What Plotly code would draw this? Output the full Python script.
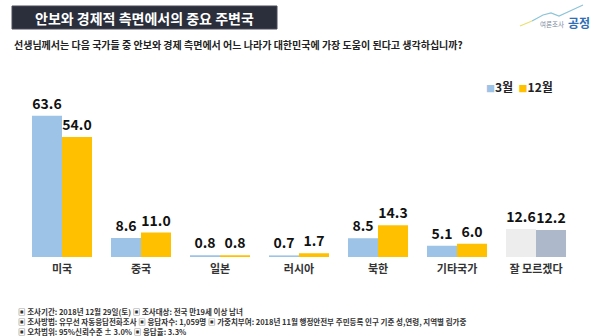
import plotly.graph_objects as go

# Survey results: most helpful neighbouring country (security & economy)
categories = ["미국", "중국", "일본", "러시아", "북한", "기타국가", "잘 모르겠다"]
march = [63.6, 8.6, 0.8, 0.7, 8.5, 5.1, 12.6]
december = [54.0, 11.0, 0.8, 1.7, 14.3, 6.0, 12.2]
series_names = ["3월", "12월"]

BLUE = "#9DC3E6"
YELLOW = "#FFC000"
FONT = "Noto Sans CJK KR"

W, H = 599, 336

def px_x(x):
    return x / W

def px_y(y):
    return 1 - y / H

x_pos = list(range(len(categories)))
march_colors = [BLUE] * (len(categories) - 1) + ["#EDEDED"]
dec_colors = [YELLOW] * (len(categories) - 1) + ["#ADB9CA"]

fig = go.Figure()
for name, vals, cols in [(series_names[0], march, march_colors),
                         (series_names[1], december, dec_colors)]:
    fig.add_trace(go.Bar(
        x=x_pos, y=vals, name=name,
        marker=dict(color=cols, line=dict(width=0)),
        text=[f"<b>{v:.1f}</b>" for v in vals],
        textposition="outside",
        textfont=dict(family=FONT, size=14, color="#111111"),
        cliponaxis=False,
        showlegend=False,
    ))

fig.update_layout(
    width=W, height=H,
    margin=dict(l=0, r=0, t=0, b=0),
    paper_bgcolor="white", plot_bgcolor="white",
    barmode="group", bargap=0.24, bargroupgap=0,
    font=dict(family=FONT),
    xaxis=dict(
        domain=[px_x(22.5), px_x(575.5)],
        range=[-0.5, len(categories) - 0.5],
        tickvals=x_pos,
        ticktext=[f"<b>{c}</b>" for c in categories],
        tickfont=dict(family=FONT, size=11, color="#333333"),
        showline=False, showgrid=False, zeroline=False, ticks="",
        ticklabelstandoff=4,
    ),
    yaxis=dict(
        domain=[px_y(257), px_y(79.4)],
        range=[0, 80],
        visible=False,
    ),
)

# Title banner
fig.add_shape(type="rect", xref="paper", yref="paper",
              x0=px_x(12), x1=px_x(277), y0=px_y(29), y1=px_y(6),
              fillcolor="#2B2E3B", line=dict(color="#4A4D58", width=1))
fig.add_annotation(xref="paper", yref="paper", x=px_x(144), y=px_y(17.5),
                   text="<b>안보와 경제적 측면에서의 중요 주변국</b>",
                   showarrow=False, xanchor="center", yanchor="middle",
                   font=dict(family=FONT, size=14, color="white"))

# Question text
fig.add_annotation(xref="paper", yref="paper", x=px_x(12), y=px_y(45),
                   text="<b>선생님께서는 다음 국가들 중 안보와 경제 측면에서 어느 나라가 대한민국에 가장 도움이 된다고 생각하십니까?</b>",
                   showarrow=False, xanchor="left", yanchor="middle",
                   font=dict(family=FONT, size=10, color="#222222"))

# Logo: small rising line plus wordmark
def path_from(points):
    return "M " + " L ".join(f"{px_x(x):.5f},{px_y(y):.5f}" for x, y in points)

fig.add_shape(type="path", xref="paper", yref="paper",
              path=path_from([(532, 21), (543, 15), (551, 13), (559, 16), (570, 11), (583, 5)]),
              line=dict(color="#8CC4D8", width=1.2))
fig.add_shape(type="path", xref="paper", yref="paper",
              path=path_from([(520, 26), (532, 21)]),
              line=dict(color="#E8E070", width=1.2))
fig.add_annotation(xref="paper", yref="paper", x=px_x(552), y=px_y(24),
                   text="여론조사", showarrow=False, xanchor="center", yanchor="middle",
                   font=dict(family=FONT, size=6.5, color="#7A8AA0"))
fig.add_annotation(xref="paper", yref="paper", x=px_x(579), y=px_y(23),
                   text="<b>공정</b>", showarrow=False, xanchor="center", yanchor="middle",
                   font=dict(family=FONT, size=12, color="#2F6DB5"))

# Legend
fig.add_annotation(xref="paper", yref="paper", x=px_x(484), y=px_y(87),
                   text=f'<span style="color:{BLUE};font-size:9px">■</span><b>3월</b>  '
                        f'<span style="color:{YELLOW};font-size:9px">■</span><b>12월</b>',
                   showarrow=False, xanchor="left", yanchor="middle",
                   font=dict(family=FONT, size=12, color="#222222"))

# Footer notes (one block, one line per note)
notes = [
    "▣ 조사기간: 2018년 12월 29일(토) ▣ 조사대상: 전국 만19세 이상 남녀",
    "▣ 조사방법: 유무선 자동응답전화조사 ▣ 응답자수: 1,059명 ▣ 가중치부여: 2018년 11월 행정안전부 주민등록 인구 기준 성,연령, 지역별 림가중",
    "▣ 오차범위: 95%신뢰수준 ± 3.0% ▣ 응답율: 3.3%",
]
fig.add_annotation(xref="paper", yref="paper", x=px_x(16), y=px_y(321),
                   text="<br>".join(f"<b>{line}</b>" for line in notes),
                   showarrow=False, xanchor="left", yanchor="middle", align="left",
                   font=dict(family=FONT, size=7.5, color="#333333"))

fig.write_html("out.html")
